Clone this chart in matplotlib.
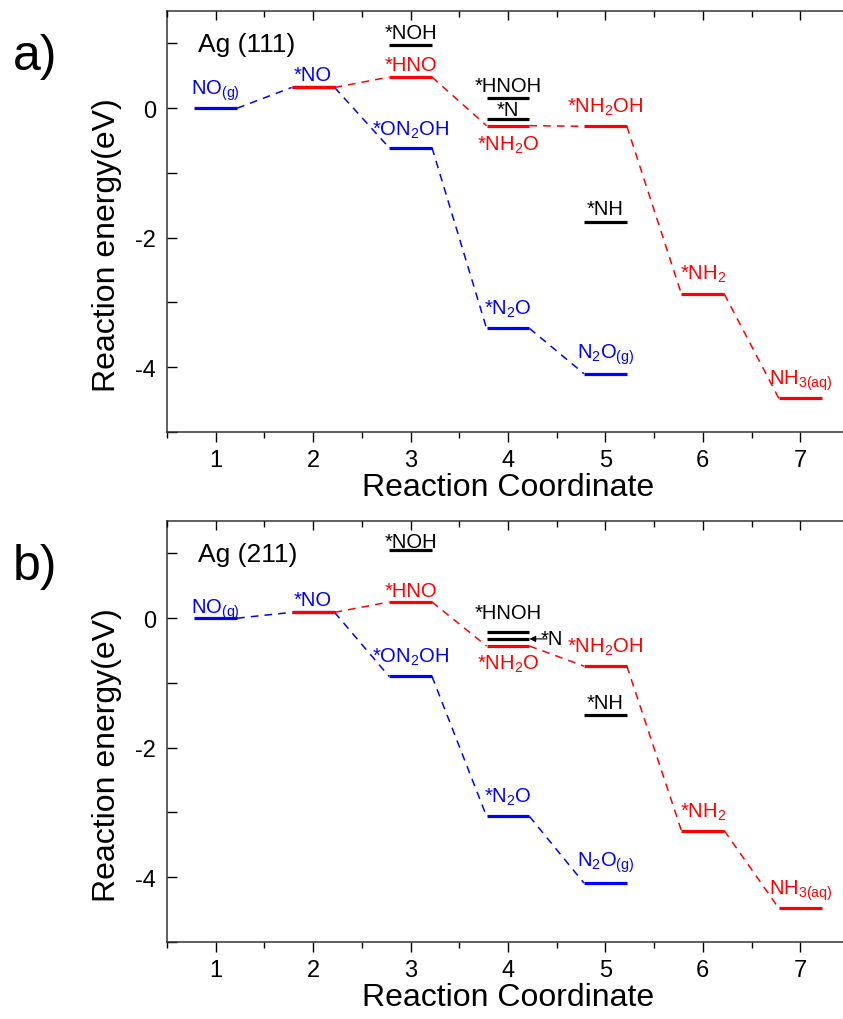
import numpy as np
import matplotlib
matplotlib.use('Agg')
import matplotlib.pyplot as plt
from matplotlib.ticker import MultipleLocator

plt.rcParams['font.family'] = ['Liberation Sans', 'DejaVu Sans']
plt.rcParams['mathtext.fontset'] = 'custom'
plt.rcParams['mathtext.rm'] = 'Liberation Sans'
plt.rcParams['mathtext.it'] = 'Liberation Sans:italic'
plt.rcParams['mathtext.bf'] = 'Liberation Sans:bold'
plt.rcParams['axes.unicode_minus'] = False

# blue path: NO(g) -> *NO -> *ON2OH -> *N2O -> N2O(g)
x_blue = [1, 2, 3, 4, 5]
lab_blue = [r'NO$_{\mathrm{(g)}}$', '*NO', r'*ON$_{2}$OH', r'*N$_{2}$O', r'N$_{2}$O$_{\mathrm{(g)}}$']
e111_blue = [0.0, 0.32, -0.61, -3.40, -4.10]
e211_blue = [0.0, 0.09, -0.90, -3.06, -4.09]

# red path: *NO -> *HNO -> *NH2O -> *NH2OH -> *NH2 -> NH3(aq)
x_red = [2, 3, 4, 5, 6, 7]
lab_red = ['*NO', '*HNO', r'*NH$_{2}$O', r'*NH$_{2}$OH', r'*NH$_{2}$', r'NH$_{3\mathrm{(aq)}}$']
e111_red = [0.32, 0.48, -0.27, -0.28, -2.87, -4.48]
e211_red = [0.09, 0.25, -0.43, -0.74, -3.28, -4.48]

# side intermediates (no connectors)
x_black = [3, 4, 4, 5]
lab_black = ['*NOH', '*HNOH', '*N', '*NH']
e111_black = [0.97, 0.155, -0.17, -1.76]
e211_black = [1.05, -0.21, -0.32, -1.49]

# label offsets (eV) above level baseline, negative = below
dy_blue_a = [0.22, 0.12, 0.20, 0.22, 0.25]
dy_red_a = [None, 0.11, -0.12, 0.22, 0.23, 0.22]
dy_black_a = [0.12, 0.11, 0.06, 0.12]
dy_blue_b = [0.08, 0.11, 0.23, 0.22, 0.27]
dy_red_b = [None, 0.10, -0.11, 0.22, 0.21, 0.23]
dy_black_b = [0.05, 0.21, None, 0.10]

hw = 0.22
BLUE = '#0000ff'
RED = '#ff0000'


def draw_panel(ax, eb, er, ek, dyb, dyr, dyk, title):
    for xs, es, c in [(x_blue, eb, BLUE), (x_red, er, RED)]:
        for i in range(len(xs) - 1):
            ax.plot([xs[i] + hw, xs[i+1] - hw], [es[i], es[i+1]], color=c,
                    lw=1.1, ls=(0, (5, 4)), zorder=1)
    for xs, es, labs, dys, c in [(x_blue, eb, lab_blue, dyb, BLUE),
                                 (x_red, er, lab_red, dyr, RED),
                                 (x_black, ek, lab_black, dyk, 'k')]:
        for x, e, lab, dy in zip(xs, es, labs, dys):
            ax.plot([x - hw, x + hw], [e, e], color=c, lw=2.3,
                    solid_capstyle='butt', zorder=3)
            if dy is None:
                continue
            va = 'baseline' if dy > 0 else 'top'
            ax.text(x, e + dy, lab, color=c, fontsize=14.5, ha='center', va=va)
    ax.text(0.82, 0.89, title, fontsize=19, ha='left', va='baseline')

    ax.set_xlim(0.5, 7.5)
    ax.set_ylim(-5, 1.5)
    ax.xaxis.set_major_locator(MultipleLocator(1))
    ax.xaxis.set_minor_locator(MultipleLocator(0.5))
    ax.yaxis.set_major_locator(MultipleLocator(2))
    ax.yaxis.set_minor_locator(MultipleLocator(1))
    ax.tick_params(axis='x', which='both', direction='out', top=False, labelsize=17, pad=5)
    ax.tick_params(axis='x', which='major', length=7, width=1)
    ax.tick_params(axis='x', which='minor', length=4.5, width=1)
    ax.tick_params(axis='y', which='both', direction='in', right=False, labelsize=17, pad=8)
    ax.tick_params(axis='y', which='major', length=7, width=1)
    ax.tick_params(axis='y', which='minor', length=7, width=1)
    ax.spines['right'].set_visible(False)
    for s in ['left', 'bottom', 'top']:
        ax.spines[s].set_linewidth(1.1)
        ax.spines[s].set_color('#333333')

    # top ticks point inward, bottom ones outward: use a twin for the top
    top = ax.twiny()
    top.set_xlim(ax.get_xlim())
    top.xaxis.set_major_locator(MultipleLocator(1))
    top.xaxis.set_minor_locator(MultipleLocator(0.5))
    top.tick_params(which='both', direction='in', labeltop=False, width=1)
    top.tick_params(which='major', length=6.5)
    top.tick_params(which='minor', length=4.5)
    for s in ['left', 'right', 'bottom', 'top']:
        top.spines[s].set_visible(False)

    ax.set_xlabel('Reaction Coordinate', fontsize=23)
    ax.set_ylabel('Reaction energy(eV)', fontsize=23)
    ax.xaxis.set_label_coords(0.5, -0.13)
    ax.xaxis.label.set_va('center')
    ax.yaxis.set_label_coords(-0.088, 0.447)
    ax.yaxis.label.set_va('center')
    return top


fig = plt.figure(figsize=(8.43, 10.2), dpi=100)
ax1 = fig.add_axes([0.1981, 0.5755, 0.8090, 0.4127])
ax2 = fig.add_axes([0.1981, 0.0755, 0.8090, 0.4127])

draw_panel(ax1, e111_blue, e111_red, e111_black, dy_blue_a, dy_red_a, dy_black_a, 'Ag (111)')
draw_panel(ax2, e211_blue, e211_red, e211_black, dy_blue_b, dy_red_b, dy_black_b, 'Ag (211)')

# *N on Ag(211) sits between *HNOH and *NH2O, label it with an arrow
ax2.annotate('', xy=(4.0 + hw, e211_black[2]), xytext=(4.40, e211_black[2]),
             arrowprops=dict(arrowstyle='-|>', color='k', lw=0.8, mutation_scale=9,
                             shrinkA=0, shrinkB=0))
ax2.text(4.33, e211_black[2] + 0.01, '*N', fontsize=14.5, ha='left', va='center')

fig.text(13 / 843, 1 - 70 / 1020, 'a)', fontsize=36, ha='left', va='baseline')
fig.text(13 / 843, 1 - 580 / 1020, 'b)', fontsize=36, ha='left', va='baseline')

fig.savefig('out.png', dpi=100)
